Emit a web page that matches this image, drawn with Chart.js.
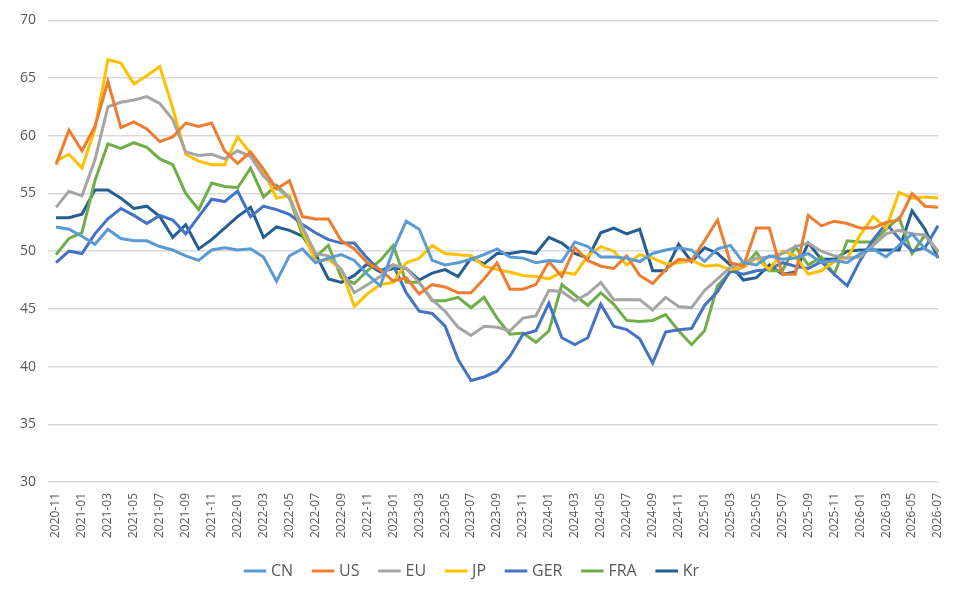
<!DOCTYPE html>
<html>
<head>
<meta charset="utf-8">
<script src="https://cdn.jsdelivr.net/npm/chart.js@4/dist/chart.umd.min.js"></script>
<style>
  html, body { margin: 0; padding: 0; background: #fff; }
</style>
</head>
<body>
<canvas id="chartPmi" width="960" height="595"></canvas>
<script>
// months 2020-11 .. 2026-07
const months = [];
for (let y = 2020, m = 11; y < 2026 || (y === 2026 && m <= 7); m++) {
    if (m > 12) { m = 1; y++; }
    months.push(y + '-' + String(m).padStart(2, '0'));
}

const cn = [52.1, 51.9, 51.3, 50.6, 51.9, 51.1, 50.9, 50.9, 50.4, 50.1,
    49.6, 49.2, 50.1, 50.3, 50.1, 50.2, 49.5, 47.4, 49.6, 50.2,
    49.0, 49.4, 49.7, 49.2, 48.0, 47.0, 50.1, 52.6, 51.9, 49.2,
    48.8, 49.0, 49.3, 49.7, 50.2, 49.5, 49.4, 49.0, 49.2, 49.1,
    50.8, 50.4, 49.5, 49.5, 49.4, 49.1, 49.8, 50.1, 50.3, 50.1,
    49.1, 50.2, 50.5, 49.0, 48.8, 49.6, 49.3, 49.4, 49.8, 49.0,
    49.2, 49.0, 49.8, 50.2, 49.5, 50.5, 51.5, 50.2, 49.5];
const us = [57.5, 60.5, 58.7, 60.8, 64.7, 60.7, 61.2, 60.6, 59.5, 59.9,
    61.1, 60.8, 61.1, 58.7, 57.6, 58.6, 57.1, 55.4, 56.1, 53.0,
    52.8, 52.8, 50.9, 50.2, 49.0, 48.4, 47.4, 47.7, 46.3, 47.1,
    46.9, 46.4, 46.4, 47.6, 49.0, 46.7, 46.7, 47.1, 49.1, 47.8,
    50.3, 49.2, 48.7, 48.5, 49.6, 47.9, 47.2, 48.4, 49.3, 49.2,
    50.9, 52.7, 49.0, 48.7, 52.0, 52.0, 48.0, 48.0, 53.1, 52.2,
    52.6, 52.4, 52.0, 52.0, 52.5, 52.7, 55.0, 53.9, 53.8];
const eu = [53.8, 55.2, 54.8, 57.9, 62.5, 62.9, 63.1, 63.4, 62.8, 61.4,
    58.6, 58.3, 58.4, 58.0, 58.7, 58.2, 56.5, 55.5, 54.6, 52.1,
    49.8, 49.6, 48.4, 46.4, 47.1, 47.8, 48.8, 48.5, 47.3, 45.8,
    44.8, 43.4, 42.7, 43.5, 43.4, 43.1, 44.2, 44.4, 46.6, 46.5,
    45.7, 46.3, 47.3, 45.8, 45.8, 45.8, 44.9, 46.0, 45.2, 45.1,
    46.6, 47.6, 48.6, 49.0, 49.4, 49.5, 49.8, 50.4, 50.7, 50.0,
    49.6, 49.4, 49.5, 50.5, 51.5, 51.8, 51.5, 51.4, 50.0];
const jp = [57.8, 58.4, 57.2, 60.6, 66.6, 66.3, 64.5, 65.2, 66.0, 62.4,
    58.4, 57.8, 57.5, 57.5, 59.9, 58.5, 56.9, 54.6, 54.8, 51.8,
    49.1, 49.3, 48.4, 45.2, 46.3, 47.1, 47.3, 49.0, 49.4, 50.5,
    49.8, 49.7, 49.6, 48.7, 48.4, 48.2, 47.9, 47.8, 47.6, 48.2,
    48.0, 49.6, 50.4, 50.0, 48.8, 49.7, 49.4, 48.9, 49.0, 49.2,
    48.7, 48.8, 48.4, 48.6, 49.4, 48.4, 50.0, 49.6, 48.0, 48.3,
    49.1, 49.4, 51.4, 53.0, 52.0, 55.1, 54.6, 54.7, 54.6];
const ger = [49.0, 50.0, 49.8, 51.5, 52.8, 53.7, 53.1, 52.4, 53.1, 52.7,
    51.5, 53.0, 54.5, 54.3, 55.2, 53.0, 53.9, 53.6, 53.2, 52.3,
    51.6, 51.0, 50.7, 50.7, 49.4, 48.3, 48.8, 46.4, 44.8, 44.6,
    43.5, 40.6, 38.8, 39.1, 39.6, 40.9, 42.8, 43.1, 45.5, 42.5,
    41.9, 42.5, 45.4, 43.5, 43.2, 42.4, 40.3, 43.0, 43.2, 43.3,
    45.3, 46.5, 48.3, 48.0, 48.3, 48.4, 49.0, 48.7, 48.5, 49.1,
    48.0, 47.0, 49.2, 51.0, 52.4, 51.1, 50.0, 50.3, 52.2];
const fra = [49.7, 51.1, 51.6, 56.1, 59.3, 58.9, 59.4, 59.0, 58.0, 57.5,
    55.0, 53.6, 55.9, 55.6, 55.5, 57.2, 54.7, 55.7, 54.6, 51.4,
    49.5, 50.5, 47.7, 47.2, 48.3, 49.2, 50.5, 47.3, 47.3, 45.7,
    45.7, 46.0, 45.1, 46.0, 44.2, 42.8, 42.9, 42.1, 43.1, 47.1,
    46.2, 45.3, 46.4, 45.4, 44.0, 43.9, 44.0, 44.5, 43.1, 41.9,
    43.1, 47.0, 48.2, 48.6, 49.9, 48.3, 48.3, 50.4, 48.8, 49.5,
    48.0, 50.9, 50.8, 50.8, 51.9, 52.9, 49.8, 51.4, 49.9];
const kr = [52.9, 52.9, 53.2, 55.3, 55.3, 54.6, 53.7, 53.9, 53.0, 51.2,
    52.3, 50.2, 51.0, 52.0, 53.0, 53.8, 51.2, 52.1, 51.8, 51.3,
    49.8, 47.6, 47.3, 47.9, 48.9, 48.2, 48.5, 48.5, 47.5, 48.1,
    48.4, 47.8, 49.4, 48.9, 49.8, 49.8, 50.0, 49.8, 51.2, 50.7,
    49.8, 49.4, 51.6, 52.0, 51.5, 51.9, 48.3, 48.3, 50.6, 49.1,
    50.3, 49.8, 48.8, 47.5, 47.7, 48.8, 48.0, 48.2, 50.7, 49.3,
    49.3, 50.0, 50.1, 50.1, 50.1, 50.1, 53.5, 51.9, 49.4];

const seriesNames = ['CN', 'US', 'EU', 'JP', 'GER', 'FRA', 'Kr'];
const seriesData = [cn, us, eu, jp, ger, fra, kr];
const colors = ['#5B9BD5', '#ED7D31', '#A5A5A5', '#FFC000', '#4472C4', '#70AD47', '#255E91'];

const font = "'Open Sans', 'Liberation Sans', sans-serif";

new Chart(document.getElementById('chartPmi'), {
    type: 'line',
    data: {
        labels: months,
        datasets: seriesNames.map((name, i) => ({
            label: name,
            data: seriesData[i],
            borderColor: colors[i],
            backgroundColor: colors[i],
            borderWidth: 3,
            pointRadius: 0,
            tension: 0
        }))
    },
    options: {
        responsive: false,
        animation: false,
        layout: { padding: { left: 8, right: 22, top: 10, bottom: 6 } },
        scales: {
            x: {
                grid: { display: false },
                border: { color: '#d9d9d9' },
                ticks: {
                    autoSkip: false,
                    minRotation: 90,
                    maxRotation: 90,
                    color: '#595959',
                    font: { family: font, size: 12 },
                    callback: function (v, i) { return i % 2 === 0 ? months[i] : ''; }
                }
            },
            y: {
                min: 30,
                max: 70,
                grid: { color: '#d9d9d9', lineWidth: 1.5 },
                border: { display: false },
                ticks: {
                    stepSize: 5,
                    padding: 12,
                    color: '#595959',
                    font: { family: font, size: 14 }
                }
            }
        },
        plugins: {
            legend: {
                position: 'bottom',
                labels: {
                    usePointStyle: true,
                    pointStyle: 'line',
                    boxWidth: 40,
                    padding: 22,
                    color: '#595959',
                    font: { family: font, size: 16 }
                }
            },
            tooltip: { enabled: false }
        }
    }
});
</script>
</body>
</html>
